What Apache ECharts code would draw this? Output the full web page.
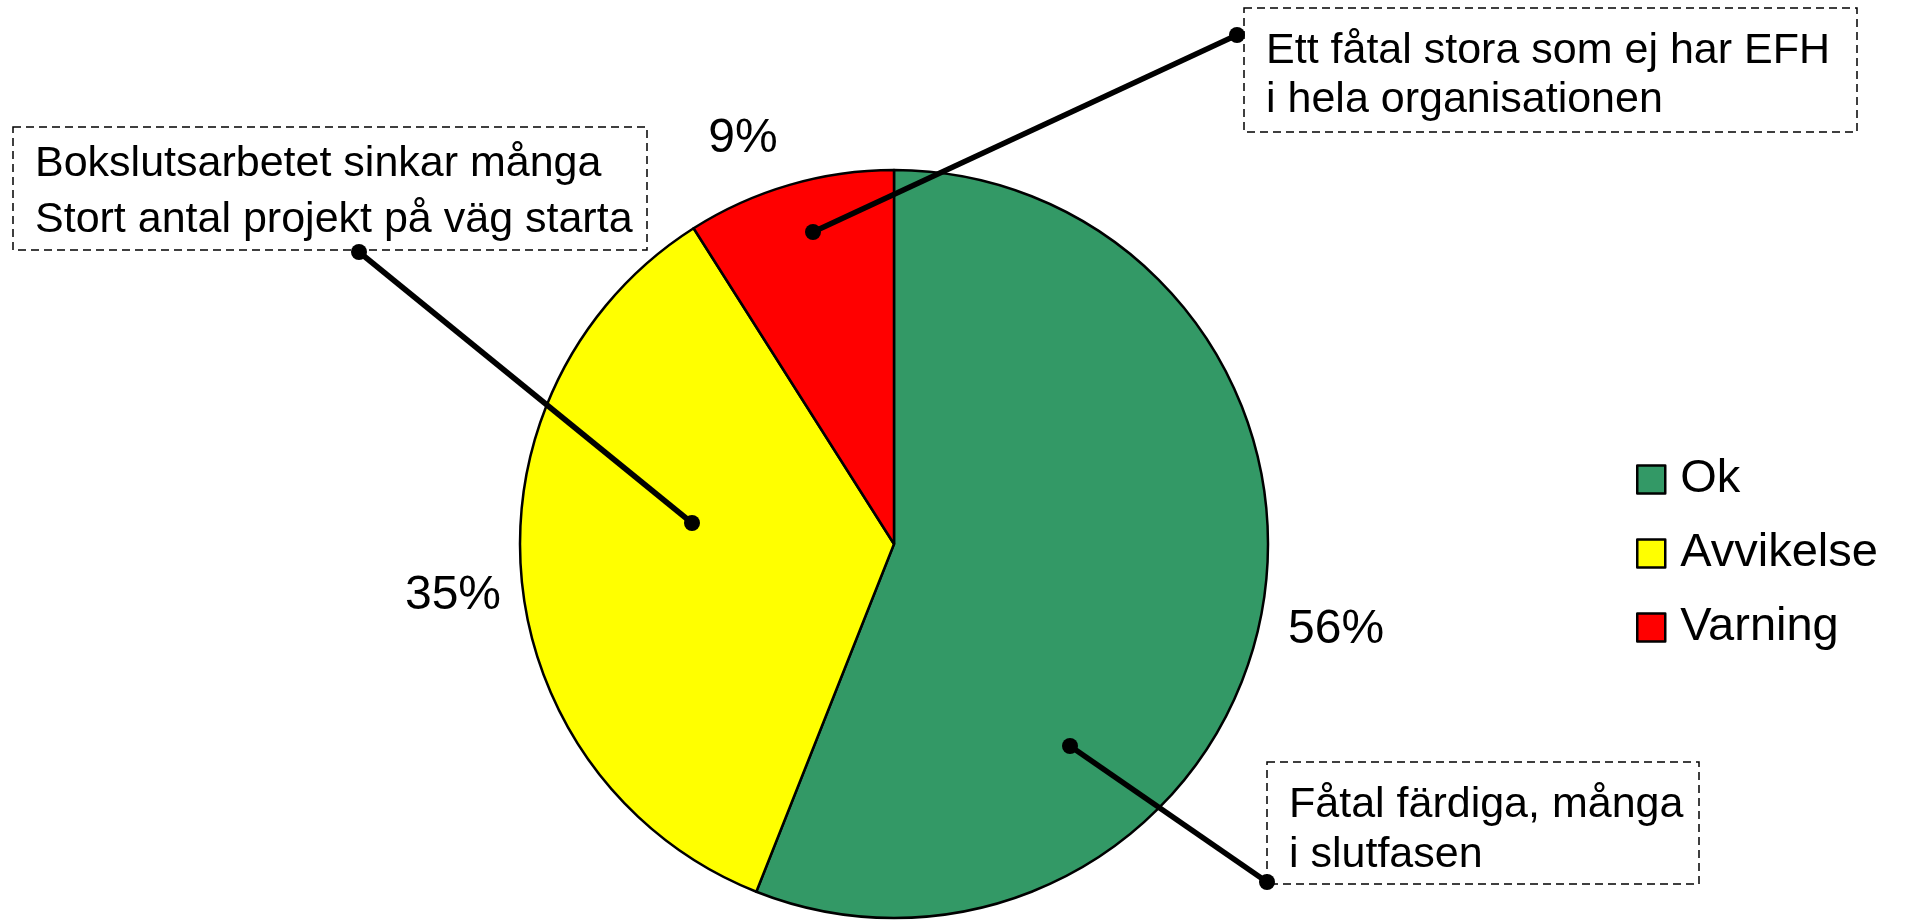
<!DOCTYPE html>
<html>
<head>
<meta charset="utf-8">
<script src="https://cdn.jsdelivr.net/npm/echarts@6/dist/echarts.min.js"></script>
<style>
html,body{margin:0;padding:0;background:#fff;}
#chart{width:1908px;height:920px;}
</style>
</head>
<body>
<div id="chart"></div>
<script>
var categories = ['Ok', 'Avvikelse', 'Varning'];
var values = [56, 35, 9];
var sliceColors = ['#339966', '#FFFF00', '#FF0000'];
var notes = [
  'Bokslutsarbetet sinkar många\nStort antal projekt på väg starta',
  'Ett fåtal stora som ej har EFH\ni hela organisationen',
  'Fåtal färdiga, många\ni slutfasen'
];
// small per-slice nudges of the percentage labels (layout only)
var labelNudges = [[2, 2], [5, 10], [-26, 25]];

var FONT = '"Liberation Sans", Arial, sans-serif';
var chart = echarts.init(document.getElementById('chart'));

var pieData = categories.map(function (c, i) {
  return { name: c, value: values[i], itemStyle: { color: sliceColors[i] } };
});
var labelData = categories.map(function (c, i) {
  return { name: c, value: values[i], label: { offset: labelNudges[i] } };
});

function noteBox(x, y, w, h, text, fs, lh, ty) {
  return [
    { type: 'rect', shape: { x: x, y: y, width: w, height: h },
      style: { fill: '#fff', stroke: '#000', lineWidth: 1.5, lineDash: [8, 5] }, z: 10 },
    { type: 'text', x: x + 22, y: ty,
      style: { text: text, font: fs + 'px ' + FONT, fill: '#000', lineHeight: lh,
               verticalAlign: 'middle', align: 'left' }, z: 11 }
  ];
}
function leader(x1, y1, x2, y2) {
  return [
    { type: 'line', shape: { x1: x1, y1: y1, x2: x2, y2: y2 },
      style: { stroke: '#000', lineWidth: 5.5 }, z: 20 },
    { type: 'circle', shape: { cx: x1, cy: y1, r: 8 }, style: { fill: '#000' }, z: 21 },
    { type: 'circle', shape: { cx: x2, cy: y2, r: 8 }, style: { fill: '#000' }, z: 21 }
  ];
}

var graphics = []
  .concat(noteBox(13, 127, 634, 123, notes[0], 43, 56, 192))
  .concat(noteBox(1244, 8, 613, 124, notes[1], 43, 49, 76))
  .concat(noteBox(1267, 762, 432, 122, notes[2], 43, 50, 830))
  .concat(leader(359, 252, 692, 523))
  .concat(leader(813, 232, 1237, 35))
  .concat(leader(1070, 746, 1267, 882));

chart.setOption({
  animation: false,
  backgroundColor: '#fff',
  legend: {
    orient: 'vertical',
    left: 1631,
    top: 451,
    itemWidth: 28,
    itemHeight: 28,
    itemGap: 27,
    icon: 'rect',
    data: categories,
    itemStyle: { borderColor: '#000', borderWidth: 2.5 },
    textStyle: { fontFamily: FONT, fontSize: 47, color: '#000', padding: [0, 0, 0, 10] }
  },
  graphic: graphics,
  series: [
    {
      type: 'pie',
      center: [894, 544],
      radius: 374,
      startAngle: 90,
      clockwise: true,
      silent: true,
      data: pieData,
      label: { show: false },
      labelLine: { show: false },
      itemStyle: { borderColor: '#000', borderWidth: 2.5 }
    },
    {
      type: 'pie',
      center: [894, 544],
      radius: [420, 470],
      startAngle: 90,
      clockwise: true,
      silent: true,
      data: labelData,
      itemStyle: { color: 'rgba(0,0,0,0)', borderWidth: 0 },
      label: {
        show: true, position: 'inside',
        formatter: '{c}%',
        fontFamily: FONT, fontSize: 48, color: '#000'
      },
      labelLine: { show: false }
    }
  ]
});
</script>
</body>
</html>
